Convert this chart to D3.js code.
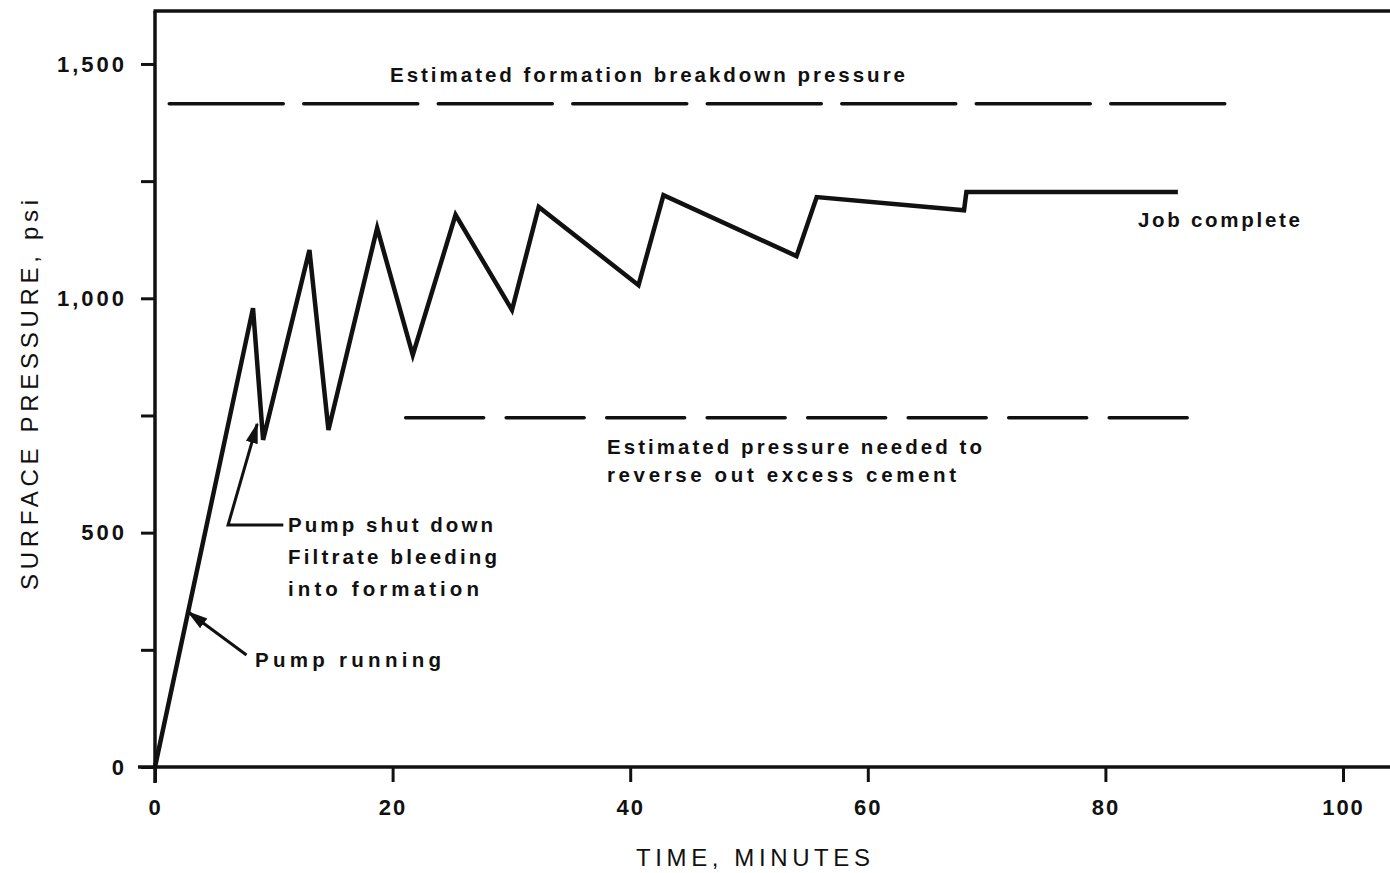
<!DOCTYPE html>
<html>
<head>
<meta charset="utf-8">
<script src="https://cdn.jsdelivr.net/npm/d3@7"></script>
<style>
  html, body { margin: 0; padding: 0; background: #fff; }
  svg { display: block; }
  .note { font-family: "Liberation Sans", Arial, sans-serif; font-weight: bold; font-size: 20.5px; fill: #111; }
  .tick text { font-family: "Liberation Sans", Arial, sans-serif; font-weight: bold; font-size: 22px; fill: #111; }
  .title { font-family: "Liberation Sans", Arial, sans-serif; font-size: 24px; fill: #111; }
</style>
</head>
<body>
<div id="chart"></div>
<script>
// pressure record, minutes vs psi
const timeMin = [0, 8.25, 9.1, 13.0, 14.6, 18.7, 21.7, 25.3, 30.05, 32.3, 40.7, 42.8, 54.0, 55.7, 68.1, 68.3, 86.1];
const pressure = [0, 979, 698, 1103, 719, 1150, 879, 1178, 975, 1195, 1028, 1220, 1090, 1216, 1188, 1227, 1227];

// estimated reference levels
const breakdownLevel = 1415;
const breakdownSpan = [1.2, 90.3];
const reverseLevel = 745;
const reverseSpan = [21.1, 87.0];

const xTicks = [0, 20, 40, 60, 80, 100];
const yTicks = [0, 250, 500, 750, 1000, 1250, 1500];
const yLabelled = [0, 500, 1000, 1500];

const W = 1390, H = 873;
const svg = d3.select("#chart").append("svg")
  .attr("width", W).attr("height", H);

const x = d3.scaleLinear().domain([0, 100]).range([155, 1343]);
const y = d3.scaleLinear().domain([0, 1613]).range([767, 11]);

// axes
const xAxis = d3.axisBottom(x).tickValues(xTicks).tickSize(15).tickSizeOuter(0).tickPadding(12);
const gx = svg.append("g").attr("transform", "translate(0," + y(0) + ")").call(xAxis);
gx.select(".domain").remove();
gx.selectAll(".tick line").attr("stroke", "#111").attr("stroke-width", 3);
gx.selectAll(".tick text").attr("dy", "0.95em").attr("letter-spacing", 2);

const fmt = d3.format(",");
const yAxis = d3.axisLeft(y).tickValues(yTicks).tickSize(14).tickPadding(14)
  .tickFormat(d => yLabelled.includes(d) ? fmt(d) : "");
const gy = svg.append("g").attr("transform", "translate(" + x(0) + ",0)").call(yAxis);
gy.select(".domain").remove();
gy.selectAll(".tick line").attr("stroke", "#111").attr("stroke-width", 3);
gy.selectAll(".tick text").attr("letter-spacing", 3);

// frame lines
svg.append("line")
  .attr("x1", x(0) - 17).attr("x2", W)
  .attr("y1", y(0)).attr("y2", y(0))
  .attr("stroke", "#111").attr("stroke-width", 3.5);
svg.append("line")
  .attr("x1", x(0)).attr("x2", x(0))
  .attr("y1", y(0) + 16).attr("y2", y(1613))
  .attr("stroke", "#111").attr("stroke-width", 3.5);
svg.append("line")
  .attr("x1", x(0) - 1.5).attr("x2", W)
  .attr("y1", y(1613)).attr("y2", y(1613))
  .attr("stroke", "#111").attr("stroke-width", 3.5);

// dashed reference lines
svg.append("line")
  .attr("x1", x(breakdownSpan[0])).attr("x2", x(breakdownSpan[1]))
  .attr("y1", y(breakdownLevel)).attr("y2", y(breakdownLevel))
  .attr("stroke", "#111").attr("stroke-width", 3.5)
  .attr("stroke-dasharray", "114 20.5").attr("stroke-linecap", "round");
svg.append("line")
  .attr("x1", x(reverseSpan[0])).attr("x2", x(reverseSpan[1]))
  .attr("y1", y(reverseLevel)).attr("y2", y(reverseLevel))
  .attr("stroke", "#111").attr("stroke-width", 3.5)
  .attr("stroke-dasharray", "78 22.5").attr("stroke-linecap", "round");

// pressure trace
const line = d3.line().x(i => x(timeMin[i])).y(i => y(pressure[i]));
svg.append("path")
  .attr("d", line(d3.range(timeMin.length)))
  .attr("fill", "none").attr("stroke", "#111")
  .attr("stroke-width", 4.5).attr("stroke-linejoin", "miter");

// arrow markers
svg.append("defs").append("marker")
  .attr("id", "head").attr("viewBox", "0 0 12 10")
  .attr("refX", 11).attr("refY", 5)
  .attr("markerWidth", 7).attr("markerHeight", 6)
  .attr("orient", "auto")
  .append("path").attr("d", "M0,1.5 L12,5 L0,8.5 Z").attr("fill", "#111");

svg.append("polyline")
  .attr("points", [[x(10.8), 525], [x(6.15), 525], [x(8.6), 424]].join(" "))
  .attr("fill", "none").attr("stroke", "#111").attr("stroke-width", 3)
  .attr("marker-end", "url(#head)");
svg.append("line")
  .attr("x1", x(7.7)).attr("y1", 655).attr("x2", x(2.8)).attr("y2", 612)
  .attr("stroke", "#111").attr("stroke-width", 3)
  .attr("marker-end", "url(#head)");

// annotations
const notes = [
  ["Estimated formation breakdown pressure", 390, 82, 515],
  ["Job complete", 1138, 227, 162],
  ["Estimated pressure needed to", 607, 454, 375],
  ["reverse out excess cement", 607, 482, 349],
  ["Pump shut down", 288, 532, 205],
  ["Filtrate bleeding", 288, 564, 209],
  ["into formation", 288, 596, 191],
  ["Pump running", 255, 667, 186]
];
svg.selectAll("text.note").data(notes).enter().append("text")
  .attr("class", "note")
  .attr("x", d => d[1]).attr("y", d => d[2])
  .attr("textLength", d => d[3]).attr("lengthAdjust", "spacing")
  .text(d => d[0]);

// axis titles
svg.append("text").attr("class", "title")
  .attr("x", 636).attr("y", 866)
  .attr("textLength", 234).attr("lengthAdjust", "spacing")
  .text("TIME,  MINUTES");
svg.append("text").attr("class", "title")
  .attr("transform", "translate(38,590) rotate(-90)")
  .attr("textLength", 390).attr("lengthAdjust", "spacing")
  .text("SURFACE PRESSURE,  psi");
</script>
</body>
</html>
